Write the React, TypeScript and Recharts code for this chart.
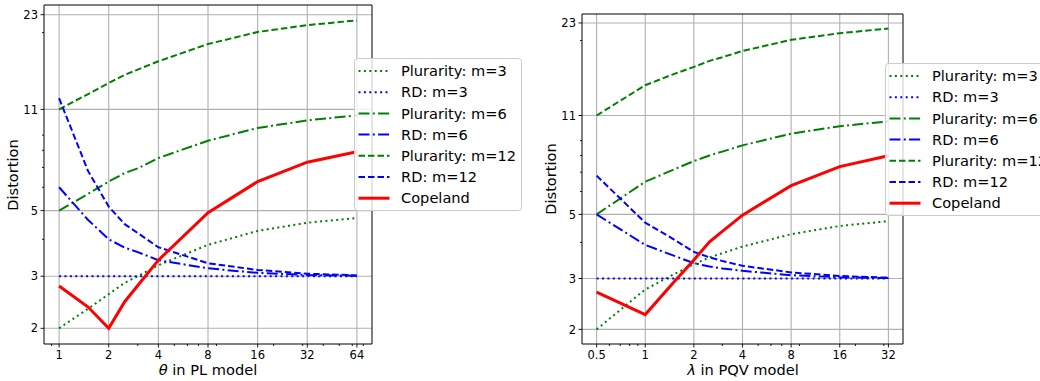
import React from 'react'
import { LineChart, Line, XAxis, YAxis, ReferenceLine } from 'recharts'

// x samples
const plThetas = [1, 1.5, 2, 2.5, 3, 4, 8, 16, 32, 64]
const pqvLambdas = [0.5, 1, 1.5, 2, 2.5, 3, 4, 8, 16, 32]

// PL model
const plPlur3 = [2.0, 2.33, 2.61, 2.85, 3.0, 3.27, 3.83, 4.27, 4.55, 4.72]
const plRd3 = [3, 3, 3, 3, 3, 3, 3, 3, 3, 3]
const plPlur6 = [5.0, 5.7, 6.27, 6.7, 6.95, 7.53, 8.62, 9.52, 10.1, 10.5]
const plRd6 = [6.0, 4.65, 4.0, 3.75, 3.62, 3.4, 3.19, 3.08, 3.03, 3.01]
const plPlur12 = [11.0, 12.4, 13.5, 14.4, 15.0, 16.0, 18.3, 20.1, 21.2, 22.0]
const plRd12 = [12.0, 6.8, 5.16, 4.5, 4.2, 3.76, 3.32, 3.15, 3.06, 3.02]
const plCopeland = [2.78, 2.36, 2.0, 2.46, 2.79, 3.4, 4.92, 6.27, 7.29, 7.91]

// PQV model
const pqvPlur3 = [2.0, 2.75, 3.1, 3.36, 3.55, 3.67, 3.87, 4.27, 4.56, 4.74]
const pqvRd3 = [3, 3, 3, 3, 3, 3, 3, 3, 3, 3]
const pqvPlur6 = [5.0, 6.49, 7.15, 7.65, 8.0, 8.25, 8.67, 9.52, 10.1, 10.5]
const pqvRd6 = [5.0, 3.92, 3.6, 3.39, 3.3, 3.25, 3.19, 3.08, 3.03, 3.01]
const pqvPlur12 = [11.0, 14.0, 15.3, 16.2, 17.0, 17.5, 18.4, 20.1, 21.2, 22.0]
const pqvRd12 = [6.81, 4.68, 4.1, 3.71, 3.55, 3.45, 3.32, 3.15, 3.06, 3.02]
const pqvCopeland = [2.69, 2.25, 2.91, 3.48, 4.02, 4.37, 4.97, 6.29, 7.32, 7.98]

// ticks
const yMajor = [2, 3, 5, 11, 23]
const yMinor = [4, 6, 7, 8, 9, 20]
const plXMajor = [1, 2, 4, 8, 16, 32, 64]
const plXMinor = [0.9, 3, 5, 6, 7, 9, 20, 30, 40, 50, 60, 70]
const pqvXMajor = [0.5, 1, 2, 4, 8, 16, 32]
const pqvXMinor = [0.6, 0.7, 0.8, 0.9, 3, 5, 6, 7, 9, 20, 30]

const FONT = 'DejaVu Sans, sans-serif'

const DOT = '2 3.4'
const DASHDOT = '11 3.3 2 3.3'
const DASH = '6.5 3'

const SERIES = [
  { key: 'p3', name: 'Plurarity: m=3', color: 'green', dash: DOT, width: 2 },
  { key: 'rd3', name: 'RD: m=3', color: 'blue', dash: DOT, width: 2 },
  { key: 'p6', name: 'Plurarity: m=6', color: 'green', dash: DASHDOT, width: 2 },
  { key: 'rd6', name: 'RD: m=6', color: 'blue', dash: DASHDOT, width: 2 },
  { key: 'p12', name: 'Plurarity: m=12', color: 'green', dash: DASH, width: 2 },
  { key: 'rd12', name: 'RD: m=12', color: 'blue', dash: DASH, width: 2 },
  { key: 'cope', name: 'Copeland', color: 'red', dash: undefined, width: 3 },
]

const plData = plThetas.map((x, i) => ({
  x,
  p3: plPlur3[i],
  rd3: plRd3[i],
  p6: plPlur6[i],
  rd6: plRd6[i],
  p12: plPlur12[i],
  rd12: plRd12[i],
  cope: plCopeland[i],
}))

const pqvData = pqvLambdas.map((x, i) => ({
  x,
  p3: pqvPlur3[i],
  rd3: pqvRd3[i],
  p6: pqvPlur6[i],
  rd6: pqvRd6[i],
  p12: pqvPlur12[i],
  rd12: pqvRd12[i],
  cope: pqvCopeland[i],
}))

const XTick = (majors: number[]) => (props: any) => {
  const { x, y, payload } = props
  const major = majors.includes(payload.value)
  return (
    <g>
      <line x1={x} x2={x} y1={y} y2={y + (major ? 3.5 : 2)} stroke="#000" strokeWidth={0.9} />
      {major && (
        <text x={x} y={y + 15} textAnchor="middle" fontSize={11.5} fontFamily={FONT} fill="#000">
          {payload.value}
        </text>
      )}
    </g>
  )
}

const YTick = (props: any) => {
  const { x, y, payload } = props
  const major = yMajor.includes(payload.value)
  return (
    <g>
      <line x1={x} x2={x - (major ? 3.5 : 2)} y1={y} y2={y} stroke="#000" strokeWidth={0.9} />
      {major && (
        <text x={x - 6} y={y} dy="0.36em" textAnchor="end" fontSize={11.5} fontFamily={FONT} fill="#000">
          {payload.value}
        </text>
      )}
    </g>
  )
}

interface PanelProps {
  data: any[]
  xDomain: [number, number]
  yDomain: [number, number]
  xMajor: number[]
  xMinor: number[]
  top: number
  right: number
}

function Panel({ data, xDomain, yDomain, xMajor, xMinor, top, right }: PanelProps) {
  return (
    <LineChart width={380} height={381} data={data} margin={{ top, right, left: 0, bottom: 0 }}>
      <XAxis
        dataKey="x"
        type="number"
        scale="log"
        domain={xDomain}
        allowDataOverflow
        ticks={[...xMajor, ...xMinor].sort((a, b) => a - b)}
        interval={0}
        tickLine={false}
        tickSize={0}
        tickMargin={0}
        tick={XTick(xMajor)}
        axisLine={{ stroke: '#000', strokeWidth: 1 }}
        height={37}
      />
      <YAxis
        type="number"
        scale="log"
        domain={yDomain}
        allowDataOverflow
        ticks={[...yMajor, ...yMinor].sort((a, b) => a - b)}
        interval={0}
        tickLine={false}
        tickSize={0}
        tickMargin={0}
        tick={YTick}
        axisLine={{ stroke: '#000', strokeWidth: 1 }}
        width={44}
      />
      {xMajor.map((v) => (
        <ReferenceLine key={'gx' + v} x={v} stroke="#b0b0b0" strokeWidth={1.1} />
      ))}
      {yMajor.map((v) => (
        <ReferenceLine key={'gy' + v} y={v} stroke="#b0b0b0" strokeWidth={1.1} />
      ))}
      <ReferenceLine x={xDomain[1]} stroke="#000" strokeWidth={1} />
      <ReferenceLine y={yDomain[1]} stroke="#000" strokeWidth={1} />
      {SERIES.map((s) => (
        <Line
          key={s.key}
          dataKey={s.key}
          name={s.name}
          type="linear"
          stroke={s.color}
          strokeWidth={s.width}
          strokeDasharray={s.dash}
          dot={false}
          activeDot={false}
          isAnimationActive={false}
        />
      ))}
    </LineChart>
  )
}

function LegendBox({ x, y }: { x: number; y: number }) {
  return (
    <g>
      <rect x={x} y={y} width={167} height={152} rx={3} fill="#fff" fillOpacity={0.8} stroke="#cccccc" strokeWidth={1} />
      {SERIES.map((s, i) => {
        const cy = y + 12.5 + i * 21.2
        return (
          <g key={s.key}>
            <line
              x1={x + 4}
              x2={x + 35}
              y1={cy}
              y2={cy}
              stroke={s.color}
              strokeWidth={s.width}
              strokeDasharray={s.dash}
            />
            <text x={x + 46.5} y={cy} dy="0.36em" fontSize={14.6} fontFamily={FONT} fill="#000">
              {s.name}
            </text>
          </g>
        )
      })}
    </g>
  )
}

export default function App() {
  return (
    <div style={{ position: 'absolute', left: 0, top: 0, width: 1040, height: 381, background: '#fff', overflow: 'hidden' }}>
      <div style={{ position: 'absolute', left: 0, top: 0 }}>
        <Panel
          data={plData}
          xDomain={[0.81, 79]}
          yDomain={[1.77, 24.8]}
          xMajor={plXMajor}
          xMinor={plXMinor}
          top={5}
          right={8}
        />
      </div>
      <div style={{ position: 'absolute', left: 538, top: 0 }}>
        <Panel
          data={pqvData}
          xDomain={[0.406, 39.4]}
          yDomain={[1.78, 24.7]}
          xMajor={pqvXMajor}
          xMinor={pqvXMinor}
          top={14}
          right={15}
        />
      </div>
      <svg width={1040} height={381} style={{ position: 'absolute', left: 0, top: 0, pointerEvents: 'none' }}>
        <text x={13} y={175} transform="rotate(-90 13 175)" textAnchor="middle" dy="0.36em" fontSize={14.6} fontFamily={FONT}>
          Distortion
        </text>
        <text x={208} y={370} textAnchor="middle" dy="0.36em" fontSize={14.6} fontFamily={FONT}>
          <tspan fontStyle="italic">θ</tspan> in PL model
        </text>
        <text x={551} y={179} transform="rotate(-90 551 179)" textAnchor="middle" dy="0.36em" fontSize={14.6} fontFamily={FONT}>
          Distortion
        </text>
        <text x={743} y={370} textAnchor="middle" dy="0.36em" fontSize={14.6} fontFamily={FONT}>
          <tspan fontStyle="italic">λ</tspan> in PQV model
        </text>
        <LegendBox x={354.5} y={58.5} />
        <LegendBox x={885.5} y={63.5} />
      </svg>
    </div>
  )
}
